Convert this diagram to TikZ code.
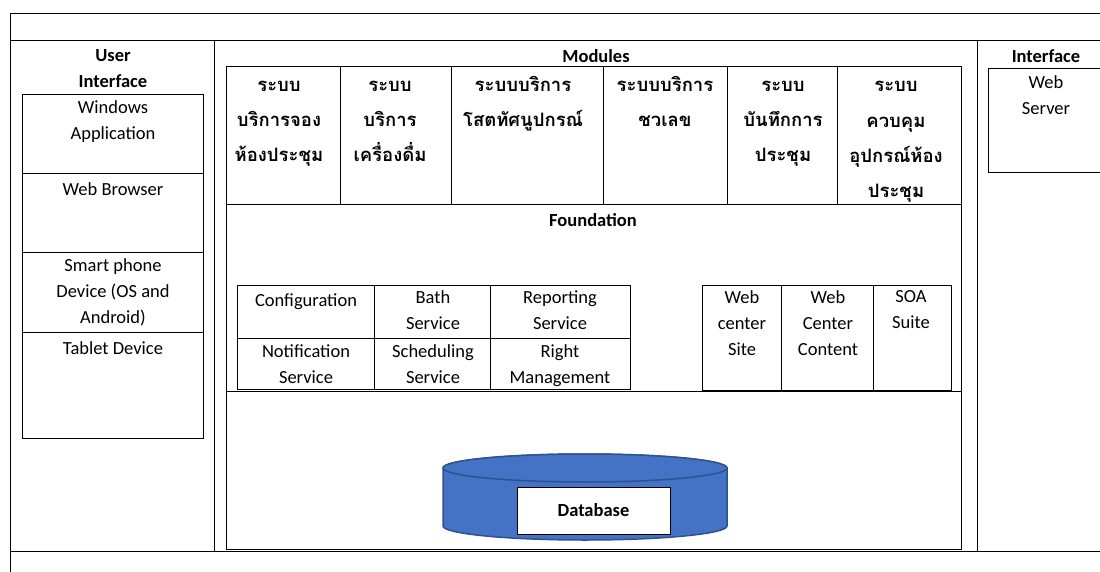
\documentclass[tikz,border=0pt]{standalone}
\usepackage{fontspec}
\setmainfont{Carlito}
\newfontfamily\thaifont[Script=Thai]{Loma}
\newcommand\thaitext{\thaifont\fontsize{18.5}{35}\selectfont\bfseries\lineskiplimit=-50pt\relax}
\tikzset{
  lbl/.style={anchor=north,yshift=16pt,inner sep=0pt,align=center,font=\fontsize{18.5}{26}\selectfont,
    execute at begin node=\rule{0pt}{16pt}},
  head/.style={lbl,font=\fontsize{18.5}{26}\selectfont\bfseries},
  thai/.style={anchor=base,inner sep=0pt,align=center,font=\thaitext},
  dbbody/.style={fill={rgb,255:red,68;green,114;blue,196},draw={rgb,255:red,47;green,82;blue,143},line width=1.5pt},
}
\begin{document}
\begin{tikzpicture}[x=1pt,y=-1pt,line width=0.8pt]
  \useasboundingbox (0,0) rectangle (1100,572);
  \draw (10,572) -- (10,13) -- (1100,13);
  \draw (10,40) -- (1100,40);
  \draw (10,551) -- (1100,551);
  \draw (214,40) -- (214,551);
  \draw (977,40) -- (977,551);
  % user interface
  \node[head] (uititle) at (113,65) {User\\Interface};
  \foreach \ya/\yb/\t [count=\i] in {94/173/{Windows\\Application},173/252/{Web Browser},
      252/332/{Smart phone\\Device (OS and\\Android)},332/438/{Tablet Device}}{
    \draw (22,\ya) rectangle (203,\yb);
    \node[lbl] (ui\i) at (113,\ya+22) {\t};}
  % modules (last line baseline = 92 + 35*(lines-1))
  \node[head] (modtitle) at (596,62) {Modules};
  \draw (226,66) rectangle (961,549);
  \draw (226,204) -- (961,204);
  \draw (226,391) -- (961,391);
  \foreach \xa/\cx/\n/\t [count=\i] in {226/279/3/{ระบบ\\บริการจอง\\ห้องประชุม},340/390/3/{ระบบ\\บริการ\\เครื่องดื่ม},
      451/523/2/{ระบบบริการ\\โสตทัศนูปกรณ์},603/665/2/{ระบบบริการ\\ชวเลข},
      727/783/3/{ระบบ\\บันทึกการ\\ประชุม},837/896/4/{ระบบ\\ควบคุม\\อุปกรณ์ห้อง\\ประชุม}}{
    \draw (\xa,66) -- (\xa,204);
    \node[thai] (mod\i) at (\cx,{92+35*(\n-1)}) {\t};}
  % foundation
  \node[head] (fndtitle) at (593,226) {Foundation};
  \draw (237,285) rectangle (630,389);
  \draw (237,338) -- (630,338);
  \draw (374,285) -- (374,389);
  \draw (490,285) -- (490,389);
  \node[lbl] (config) at (306,306) {Configuration};
  \node[lbl] (bath) at (433,306) {Bath\\Service};
  \node[lbl] (report) at (560,306) {Reporting\\Service};
  \node[lbl] (notify) at (306,360) {Notification\\Service};
  \node[lbl] (sched) at (433,360) {Scheduling\\Service};
  \node[lbl] (rights) at (560,360) {Right\\Management};
  \draw (702,285) rectangle (951,390);
  \draw (781,285) -- (781,390);
  \draw (873,285) -- (873,390);
  \node[lbl] (wcsite) at (742,306) {Web\\center\\Site};
  \node[lbl] (wccontent) at (828,306) {Web\\Center\\Content};
  \node[lbl] (soa) at (911,306) {SOA\\Suite};
  % database
  \path[dbbody] (443,468) -- (443,526) arc[start angle=180,end angle=360,x radius=142pt,y radius=14pt]
    -- (727,468) arc[start angle=0,end angle=180,x radius=142pt,y radius=14pt] -- cycle;
  \draw[dbbody] (585,468) ellipse [x radius=142pt,y radius=14pt];
  \node[draw,fill=white,line width=1pt,minimum width=153pt,minimum height=47pt,
    font=\fontsize{18.5}{26}\selectfont\bfseries] (db) at (593.5,510.5) {Database};
  % interface
  \node[head] (iftitle) at (1046,62) {Interface};
  \draw (988,68) rectangle (1104,172);
  \node[lbl] (websrv) at (1046,91) {Web\\Server};
\end{tikzpicture}
\end{document}
